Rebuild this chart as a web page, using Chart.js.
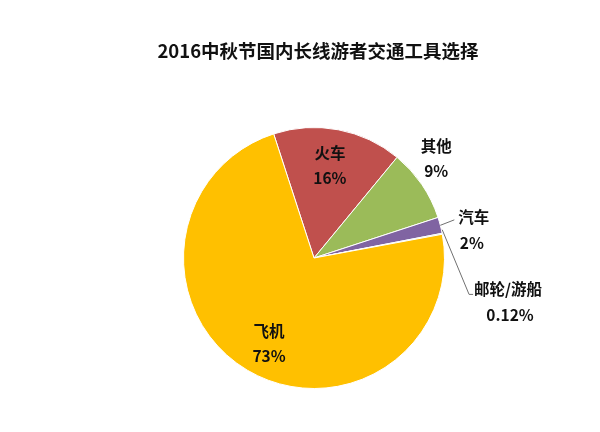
<!DOCTYPE html>
<html><head><meta charset="utf-8">
<script src="https://cdn.jsdelivr.net/npm/chart.js@4"></script>
<style>html,body{margin:0;padding:0;background:#fff;}canvas{display:block;}</style>
</head><body>
<canvas id="c" width="600" height="432"></canvas>
<script>
const title = '2016中秋节国内长线游者交通工具选择';
const categories = ['火车', '其他', '汽车', '邮轮/游船', '飞机'];
const values = [16, 9, 2, 0.12, 73];
const valueLabels = ['16%', '9%', '2%', '0.12%', '73%'];
const colors = ['#C0504D', '#9BBB59', '#8064A2', '#4BACC6', '#FFC000'];

// label placement styles: radial factor, angle offset (deg), leader line
const labelStyle = [
  {rf: 0.72, da: -1, leader: null},
  {rf: 1.21, da: -5, leader: null},
  {rf: 1.15, da: -1.4, leader: 'h'},
  {rf: 1.25, da: 21.8, leader: 'v'},
  {rf: 0.74, da: -3, leader: null}
];

const labelPlugin = {
  id: 'labels',
  afterDraw(chart) {
    const ctx = chart.ctx;
    const meta = chart.getDatasetMeta(0);
    ctx.save();
    // title
    ctx.font = 'bold 18.5px "Noto Sans CJK SC", sans-serif';
    ctx.fillStyle = '#111';
    ctx.textAlign = 'center';
    ctx.textBaseline = 'middle';
    ctx.fillText(title, 318, 51);

    meta.data.forEach((arc, i) => {
      const p = arc.getProps(['x', 'y', 'startAngle', 'endAngle', 'outerRadius'], true);
      const mid = (p.startAngle + p.endAngle) / 2;
      const st = labelStyle[i];
      const a = mid + st.da * Math.PI / 180;
      const r = p.outerRadius;
      const tx = p.x + Math.cos(a) * r * st.rf;
      const ty = p.y + Math.sin(a) * r * st.rf;
      ctx.font = 'bold 15.5px "Noto Sans CJK SC", sans-serif';
      ctx.fillStyle = '#111';
      ctx.textBaseline = 'middle';
      ctx.textAlign = 'center';
      if (st.leader) {
        const ex = p.x + Math.cos(mid) * r;
        const ey = p.y + Math.sin(mid) * r;
        ctx.strokeStyle = '#707070';
        ctx.lineWidth = 1;
        ctx.beginPath();
        ctx.moveTo(ex, ey - (st.leader === 'v' ? 4 : 0));
        if (st.leader === 'h') {
          ctx.lineTo(tx - 4, ty + 3);
        } else {
          ctx.lineTo(tx - 5, ty + 5);
          ctx.lineTo(tx - 1, ty + 5);
        }
        ctx.stroke();
        const w1 = ctx.measureText(categories[i]).width;
        const cx = tx + w1 / 2;
        ctx.fillText(categories[i], cx, ty);
        ctx.fillText(valueLabels[i], cx - (st.leader === 'h' ? 2 : -2), ty + 26);
      } else {
        ctx.fillText(categories[i], tx, ty - 12);
        ctx.fillText(valueLabels[i], tx, ty + 13);
      }
    });
    ctx.restore();
  }
};

new Chart(document.getElementById('c'), {
  type: 'pie',
  data: {
    labels: categories,
    datasets: [{
      data: values,
      backgroundColor: colors,
      borderColor: '#ffffff',
      borderWidth: 1
    }]
  },
  options: {
    responsive: false,
    animation: false,
    rotation: -18,
    layout: {padding: {top: 127, bottom: 43, left: 183, right: 155}},
    plugins: {legend: {display: false}, tooltip: {enabled: false}, title: {display: false}}
  },
  plugins: [labelPlugin]
});
</script>
</body></html>
